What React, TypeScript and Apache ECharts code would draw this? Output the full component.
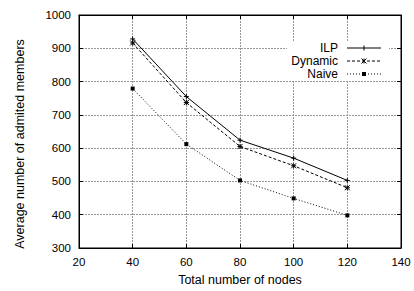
import React, { useEffect, useRef } from "react";
import * as echarts from "echarts";

const nodes = [40, 60, 80, 100, 120];
const ilp = [928, 755, 624, 570, 503];
const dynamicVals = [916, 737, 605, 547, 481];
const naive = [779, 612, 503, 449, 398];
const seriesNames = ["ILP", "Dynamic", "Naive"];
const xTicks = { min: 20, max: 140, interval: 20 };
const yTicks = { min: 300, max: 1000, interval: 100 };

const FONT = "'Liberation Sans', Arial, Helvetica, sans-serif";
const PLUS = "path://M5,0 L5,10 M0,5 L10,5";
const STAR = "path://M0,0 L10,10 M10,0 L0,10 M5,0 L5,10 M0,5 L10,5";
const DASHES: any[] = ["solid", [3, 2], [1, 2]];

function legendGraphic() {
  const els: any[] = [
    { type: "rect", shape: { x: 287, y: 42, width: 102, height: 39 }, style: { fill: "#fff" }, z: 50 },
  ];
  const x0 = 347, x1 = 381, xm = 364, tx = 338;
  seriesNames.forEach((name, i) => {
    const y = 48 + i * 13;
    els.push({
      type: "text", x: tx, y, z: 51,
      style: { text: name, font: `12px ${FONT}`, fill: "#000", align: "right", verticalAlign: "middle" },
    });
    els.push({
      type: "line", z: 51,
      shape: { x1: x0, y1: y, x2: x1, y2: y },
      style: { stroke: "#000", lineWidth: 1, lineDash: DASHES[i] === "solid" ? null : DASHES[i] },
    });
    if (i === 0) {
      els.push({ type: "line", z: 52, shape: { x1: xm, y1: y - 2.5, x2: xm, y2: y + 2.5 }, style: { stroke: "#000", lineWidth: 1 } });
    } else if (i === 1) {
      els.push({ type: "line", z: 52, shape: { x1: xm - 2.5, y1: y - 2.5, x2: xm + 2.5, y2: y + 2.5 }, style: { stroke: "#000", lineWidth: 1 } });
      els.push({ type: "line", z: 52, shape: { x1: xm - 2.5, y1: y + 2.5, x2: xm + 2.5, y2: y - 2.5 }, style: { stroke: "#000", lineWidth: 1 } });
      els.push({ type: "line", z: 52, shape: { x1: xm, y1: y - 2.5, x2: xm, y2: y + 2.5 }, style: { stroke: "#000", lineWidth: 1 } });
    } else {
      els.push({ type: "rect", z: 52, shape: { x: xm - 2, y: y - 2, width: 4, height: 4 }, style: { fill: "#000" } });
    }
  });
  return els;
}

export default function App() {
  const ref = useRef<HTMLDivElement>(null);
  useEffect(() => {
    const chart = echarts.init(ref.current!, null, { renderer: "svg" });
    const pairs = (ys: number[]) => nodes.map((x, i) => [x, ys[i]]);
    const axisCommon = {
      axisLine: { show: true, lineStyle: { color: "#000", width: 1 } },
      axisTick: { show: true, inside: true, length: 4, lineStyle: { color: "#000" } },
    };
    const gridLine = { show: true, lineStyle: { color: "#999", type: [2, 1] as any, width: 1 } };
    chart.setOption({
      animation: false,
      backgroundColor: "#fff",
      textStyle: { fontFamily: FONT },
      grid: {
        left: 79, right: 13, top: 15, bottom: 39,
        show: true, borderColor: "#000", borderWidth: 1, backgroundColor: "transparent",
      },
      xAxis: [
        {
          type: "value", ...xTicks, ...axisCommon,
          axisLabel: { color: "#000", fontSize: 11.5, fontFamily: FONT, margin: 8, formatter: (v: number) => String(v) },
          splitLine: gridLine,
          name: "Total number of nodes",
          nameLocation: "middle",
          nameGap: 25,
          nameTextStyle: { color: "#000", fontSize: 12.5, fontFamily: FONT },
        },
        {
          type: "value", position: "top", ...xTicks, ...axisCommon,
          axisLabel: { show: false }, splitLine: { show: false },
        },
      ],
      yAxis: [
        {
          type: "value", ...yTicks, ...axisCommon,
          axisLabel: { color: "#000", fontSize: 11.5, fontFamily: FONT, margin: 8, formatter: (v: number) => String(v) },
          splitLine: gridLine,
        },
        {
          type: "value", position: "right", ...yTicks, ...axisCommon,
          axisLabel: { show: false }, splitLine: { show: false },
        },
      ],
      graphic: [
        {
          type: "text",
          x: 20,
          y: 144,
          rotation: Math.PI / 2,
          style: {
            text: "Average number of admited members",
            font: `12.5px ${FONT}`,
            fill: "#000",
            align: "center",
            verticalAlign: "middle",
          },
        },
        ...legendGraphic(),
      ],
      series: [
        {
          name: seriesNames[0], type: "line", data: pairs(ilp),
          symbol: PLUS, symbolSize: 5, z: 3,
          lineStyle: { color: "#000", width: 1, type: DASHES[0] },
          itemStyle: { color: "#000", borderColor: "#000", borderWidth: 1 },
        },
        {
          name: seriesNames[1], type: "line", data: pairs(dynamicVals),
          symbol: STAR, symbolSize: 5, z: 3,
          lineStyle: { color: "#000", width: 1, type: DASHES[1] },
          itemStyle: { color: "#000", borderColor: "#000", borderWidth: 1 },
        },
        {
          name: seriesNames[2], type: "line", data: pairs(naive),
          symbol: "rect", symbolSize: 4, z: 3,
          lineStyle: { color: "#000", width: 1, type: DASHES[2] },
          itemStyle: { color: "#000", borderColor: "#000", borderWidth: 0 },
        },
      ],
    });
    return () => chart.dispose();
  }, []);
  return (
    <div
      ref={ref}
      style={{ position: "absolute", left: 0, top: 0, width: 414, height: 291 }}
    />
  );
}
